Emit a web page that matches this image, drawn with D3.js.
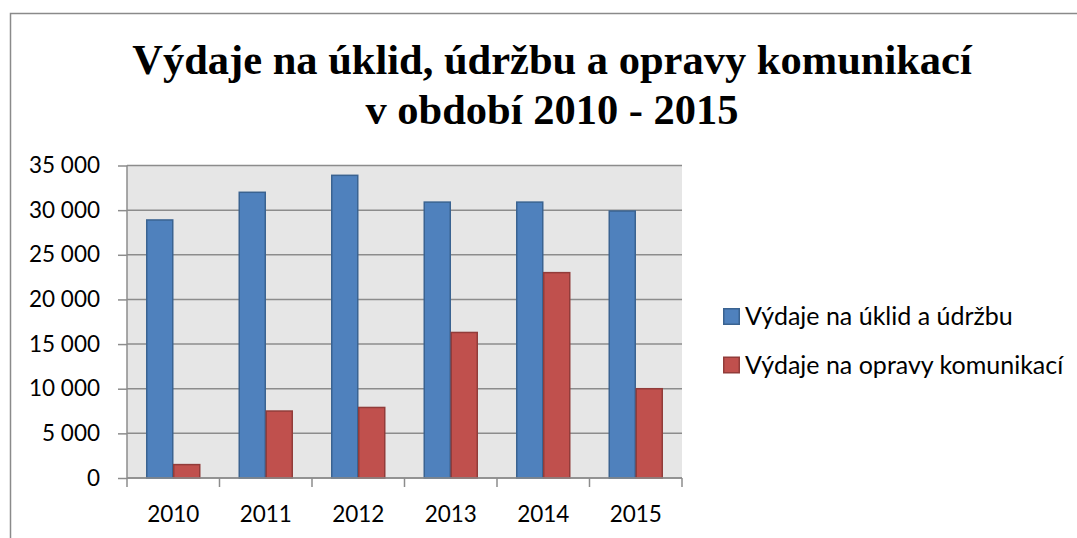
<!DOCTYPE html>
<html>
<head>
<meta charset="utf-8">
<script src="https://cdn.jsdelivr.net/npm/d3@7"></script>
<style>
  body { margin: 0; background: #fff; }
  svg { display: block; }
  .tick text { font-family: Lato, "Open Sans", sans-serif; }
</style>
</head>
<body>
<svg id="chart"></svg>
<script>
var width = 1077;
var height = 538;

// data
var years = ["2010", "2011", "2012", "2013", "2014", "2015"];
var seriesNames = ["Výdaje na úklid a údržbu", "Výdaje na opravy komunikací"];
var cleaning = [28900, 32000, 33900, 30900, 30900, 29900];
var repairs = [1500, 7500, 7900, 16300, 23000, 10000];
var yTicks = [0, 5000, 10000, 15000, 20000, 25000, 30000, 35000];
var titleLines = ["Výdaje na úklid, údržbu a opravy komunikací", "v období 2010 - 2015"];

var fills = ["#4f81bd", "#c0504d"];
var strokes = ["#3a6391", "#923c3a"];

var plot = { left: 127, right: 682, top: 165.5, bottom: 478 };

var svg = d3.select("#chart")
  .attr("width", width)
  .attr("height", height);

// outer frame (only left and top edges are visible)
svg.append("path")
  .attr("d", "M10.5," + height + "V13.5H" + width)
  .attr("fill", "none")
  .attr("stroke", "#8a8a8a")
  .attr("stroke-width", 1.5);

// title
svg.append("g").selectAll("text")
  .data(titleLines)
  .enter().append("text")
  .attr("x", 552)
  .attr("y", function(d, i) { return 74 + i * 50; })
  .attr("text-anchor", "middle")
  .attr("font-family", "'Liberation Serif', 'Times New Roman', serif")
  .attr("font-weight", "bold")
  .attr("font-size", "42.5px")
  .attr("fill", "#000")
  .text(function(d) { return d; });

var x = d3.scaleBand()
  .domain(years)
  .range([plot.left, plot.right])
  .paddingInner(0)
  .paddingOuter(0);

var x1 = d3.scaleBand()
  .domain([0, 1])
  .range([0, x.bandwidth()])
  .paddingInner(0)
  .paddingOuter(0.713);

var y = d3.scaleLinear()
  .domain([0, 35000])
  .range([plot.bottom, plot.top]);

var fmt = d3.formatLocale({ decimal: ",", thousands: " ", grouping: [3], currency: ["", ""] }).format(",");

// plot background
svg.append("rect")
  .attr("x", plot.left)
  .attr("y", plot.top)
  .attr("width", plot.right - plot.left)
  .attr("height", plot.bottom - plot.top)
  .attr("fill", "#e6e6e6");

// gridlines
svg.append("g").selectAll("line")
  .data(yTicks)
  .enter().append("line")
  .attr("x1", plot.left)
  .attr("x2", plot.right)
  .attr("y1", function(d) { return y(d); })
  .attr("y2", function(d) { return y(d); })
  .attr("stroke", "#8c8c8c")
  .attr("stroke-width", 1.5);

// y axis
var yAxis = svg.append("g")
  .attr("transform", "translate(" + plot.left + ",0)")
  .call(d3.axisLeft(y).tickValues(yTicks).tickSize(9).tickPadding(18).tickFormat(fmt));
yAxis.selectAll("line, path").attr("stroke", "#8c8c8c").attr("stroke-width", 1.5);
yAxis.select(".domain").attr("d", "M0," + plot.top + "V" + plot.bottom);
yAxis.selectAll("text").attr("font-size", "22.5px").attr("fill", "#000");

// bars
var rows = years.map(function(yr, i) {
  return { year: yr, values: [cleaning[i], repairs[i]] };
});

var groups = svg.append("g").selectAll("g")
  .data(rows)
  .enter().append("g")
  .attr("transform", function(d) { return "translate(" + x(d.year) + ",0)"; });

groups.selectAll("rect")
  .data(function(d) { return d.values.map(function(v, s) { return { s: s, v: v }; }); })
  .enter().append("rect")
  .attr("x", function(d) { return x1(d.s) + 0.5; })
  .attr("y", function(d) { return y(d.v); })
  .attr("width", x1.bandwidth() - 1)
  .attr("height", function(d) { return y(0) - y(d.v); })
  .attr("fill", function(d) { return fills[d.s]; })
  .attr("stroke", function(d) { return strokes[d.s]; })
  .attr("stroke-width", 1.5);

// x axis
var xAxis = svg.append("g")
  .attr("transform", "translate(0," + plot.bottom + ")")
  .call(d3.axisBottom(x).tickSize(0).tickPadding(28));
xAxis.select(".domain").attr("stroke", "#8c8c8c").attr("stroke-width", 1.5)
  .attr("d", "M" + plot.left + ",0H" + plot.right);
xAxis.selectAll("text").attr("font-size", "22.5px").attr("fill", "#000");

// category boundary ticks
var bounds = years.map(function(d) { return x(d); }).concat([plot.right]);
xAxis.append("g").selectAll("line")
  .data(bounds)
  .enter().append("line")
  .attr("x1", function(d) { return d; })
  .attr("x2", function(d) { return d; })
  .attr("y1", 0)
  .attr("y2", 9)
  .attr("stroke", "#8c8c8c")
  .attr("stroke-width", 1.5);

// legend
var legend = svg.append("g").selectAll("g")
  .data(seriesNames)
  .enter().append("g")
  .attr("transform", function(d, i) { return "translate(723," + (308 + i * 48.5) + ")"; });

legend.append("rect")
  .attr("x", 0.75)
  .attr("y", 0.75)
  .attr("width", 15.5)
  .attr("height", 15.5)
  .attr("fill", function(d, i) { return fills[i]; })
  .attr("stroke", function(d, i) { return strokes[i]; })
  .attr("stroke-width", 1.5);

legend.append("text")
  .attr("x", 22)
  .attr("y", 17)
  .attr("font-family", "Lato, 'Open Sans', sans-serif")
  .attr("font-size", "25px")
  .attr("fill", "#000")
  .text(function(d) { return d; });
</script>
</body>
</html>
